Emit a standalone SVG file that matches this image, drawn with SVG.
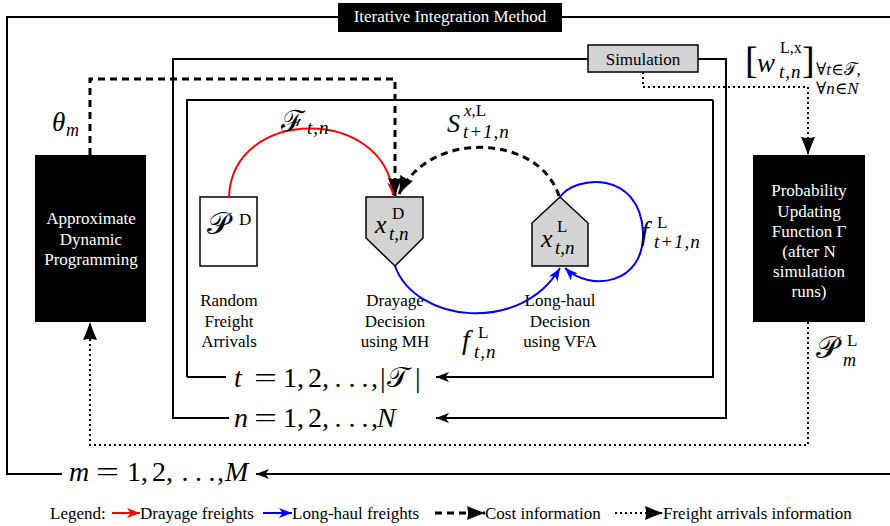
<svg xmlns="http://www.w3.org/2000/svg" width="890" height="526" viewBox="0 0 890 526">
<style>
.frame{fill:none;stroke:#000;stroke-width:2}
.t17{font-family:"Liberation Serif","Times New Roman","DejaVu Serif",serif;font-size:17px}
.mid{text-anchor:middle}
.w{fill:#fff}
.m{font-family:"Liberation Serif","Times New Roman","DejaVu Serif",serif}
.i{font-style:italic}
.dash{fill:none;stroke:#000;stroke-width:3;stroke-dasharray:7 5}
.dot{fill:none;stroke:#000;stroke-width:2;stroke-dasharray:2 3}
.red{fill:none;stroke:#f00;stroke-width:2}
.blue{fill:none;stroke:#00f;stroke-width:2}
.node{fill:#d3d3d3;stroke:#000;stroke-width:1.5}
.big{font-size:28px}
</style>
<defs>
<marker id="ak" viewBox="0 0 13 10" refX="13" refY="5" markerWidth="13" markerHeight="10" markerUnits="userSpaceOnUse" orient="auto"><path d="M0,0 L13,5 L0,10 L3.5,5 z" fill="#000"/></marker>
<marker id="ar" viewBox="0 0 13 10" refX="13" refY="5" markerWidth="13" markerHeight="10" markerUnits="userSpaceOnUse" orient="auto"><path d="M0,0 L13,5 L0,10 L3.5,5 z" fill="#f00"/></marker>
<marker id="ab" viewBox="0 0 13 10" refX="13" refY="5" markerWidth="13" markerHeight="10" markerUnits="userSpaceOnUse" orient="auto"><path d="M0,0 L13,5 L0,10 L3.5,5 z" fill="#00f"/></marker>
<marker id="big" viewBox="0 0 18 14" refX="18" refY="7" markerWidth="18" markerHeight="14" markerUnits="userSpaceOnUse" orient="auto"><path d="M0,0 Q9,4 18,7 Q9,10 0,14 Q2,7 0,0 z" fill="#000"/></marker>
</defs>

<g id="frames">
<path class="frame" d="M338,17 H7 V474 H62"/>
<path class="frame" d="M562,17 H890"/>
<path class="frame" d="M588,59 H173 V418 H229"/>
<path class="frame" d="M187,377 V100 H713"/>
<path class="frame" d="M187,377 H226"/>
</g>

<g id="title">
<rect x="338" y="3" width="224" height="29" fill="#000"/>
<text class="t17 w mid" x="450" y="22">Iterative Integration Method</text>
</g>

<g id="simulation">
<rect class="node" x="588" y="45" width="110" height="27"/>
<text class="t17 mid" x="643" y="65">Simulation</text>
</g>

<g id="adp">
<rect x="35" y="155" width="111" height="167" fill="#000"/>
<text class="t17 w mid" x="91" y="224">Approximate</text>
<text class="t17 w mid" x="91" y="244.5">Dynamic</text>
<text class="t17 w mid" x="91" y="265">Programming</text>
</g>

<g id="prob">
<rect x="753" y="155" width="112" height="167" fill="#000"/>
<text class="t17 w mid" x="809" y="196">Probability</text>
<text class="t17 w mid" x="809" y="216.5">Updating</text>
<text class="t17 w mid" x="809" y="237">Function Γ</text>
<text class="t17 w mid" x="809" y="257">(after N</text>
<text class="t17 w mid" x="809" y="277">simulation</text>
<text class="t17 w mid" x="809" y="297">runs)</text>
</g>

<g id="random">
<rect x="200" y="197" width="57" height="69" fill="#fff" stroke="#000" stroke-width="1.5"/>
<text class="m" x="207" y="234" font-size="31">𝒫</text>
<text class="m" x="239" y="225" font-size="17">D</text>
<text class="t17 mid" x="229" y="306">Random</text>
<text class="t17 mid" x="229" y="326.5">Freight</text>
<text class="t17 mid" x="229" y="347">Arrivals</text>
</g>

<g id="drayage">
<path class="node" d="M366,197 H423 V238 L395,266 L366,238 Z"/>
<text class="m i" x="375" y="233" font-size="26">x</text>
<text class="m" x="392" y="219" font-size="17">D</text>
<text class="m i" x="389" y="240" font-size="19">t,n</text>
<text class="t17 mid" x="395" y="306">Drayage</text>
<text class="t17 mid" x="395" y="326.5">Decision</text>
<text class="t17 mid" x="395" y="347">using MH</text>
</g>

<g id="longhaul">
<path class="node" d="M560,197 L588,223 V266 H532 V223 Z"/>
<text class="m i" x="541" y="247" font-size="26">x</text>
<text class="m" x="557" y="232" font-size="17">L</text>
<text class="m i" x="555" y="254" font-size="19">t,n</text>
<text class="t17 mid" x="560" y="306">Long-haul</text>
<text class="t17 mid" x="560" y="326.5">Decision</text>
<text class="t17 mid" x="560" y="347">using VFA</text>
</g>

<g id="connectors">
<path class="frame" d="M713,100 V377 H436" marker-end="url(#ak)"/>
<path class="frame" d="M698,59 H726 V418 H436" marker-end="url(#ak)"/>
<path class="frame" d="M892,474 H256" marker-end="url(#ak)"/>
<path class="red" d="M229,197 C232,106 386,106 393,195" marker-end="url(#ar)"/>
<path class="blue" d="M395,266 C415,322 520,335 560,268" marker-end="url(#ab)"/>
<path class="blue" d="M560,197 C575,175 640,170 643,232 C645,285 590,292 565,268" marker-end="url(#ab)"/>
<path class="dash" d="M559,196 C540,135 430,128 399,194" marker-end="url(#big)"/>
<path class="dash" d="M90,155 V79 H395 V196" marker-end="url(#big)"/>
<path class="dot" d="M643,72 V87 H808 V155" marker-end="url(#big)"/>
<path class="dot" d="M808,322 V445 H90 V322" marker-end="url(#big)"/>
</g>

<g id="labels">
<text class="m i" x="52" y="131" font-size="27">θ</text>
<text class="m i" x="66" y="136" font-size="18">m</text>
<text class="m" x="281" y="131" font-size="29">ℱ</text>
<text class="m i" x="307" y="134" font-size="19" letter-spacing="1">t,n</text>
<text class="m i" x="447" y="132" font-size="26">S</text>
<text class="m" x="464" y="116" font-size="17"><tspan class="i">x</tspan>,L</text>
<text class="m i" x="463" y="138" font-size="19" letter-spacing="1">t+1,n</text>
<text class="m i" x="462" y="349" font-size="28">f</text>
<text class="m" x="478" y="338" font-size="17">L</text>
<text class="m i" x="474" y="358" font-size="19" letter-spacing="1">t,n</text>
<text class="m i" x="641" y="240" font-size="28">f</text>
<text class="m" x="657" y="228" font-size="17">L</text>
<text class="m i" x="654" y="248" font-size="19" letter-spacing="1">t+1,n</text>
<text class="m" x="816" y="358" font-size="31">𝒫</text>
<text class="m" x="847" y="346" font-size="17">L</text>
<text class="m i" x="843" y="366" font-size="18">m</text>
<text class="m" x="745" y="73" font-size="38">[</text>
<text class="m i" x="757" y="72" font-size="27">w</text>
<text class="m" x="780" y="53" font-size="16">L,x</text>
<text class="m i" x="779" y="78" font-size="19" letter-spacing="1">t,n</text>
<text class="m" x="802" y="73" font-size="38">]</text>
<text class="m" x="816" y="75" font-size="17">∀<tspan class="i">t</tspan>∈𝒯,</text>
<text class="m" x="816" y="94" font-size="17">∀<tspan class="i">n</tspan>∈<tspan class="i">N</tspan></text>
</g>

<g id="loop-t">
<text class="m big" y="387"><tspan class="i" x="234">t</tspan><tspan x="283">1</tspan><tspan x="297">,</tspan><tspan x="308">2</tspan><tspan x="322">,</tspan><tspan x="334.5">.</tspan><tspan x="348.5">.</tspan><tspan x="361.5">.</tspan><tspan x="371">,</tspan><tspan x="380">|</tspan><tspan x="387">𝒯</tspan><tspan x="415">|</tspan></text>
<text class="m big" x="254" y="387" textLength="23" lengthAdjust="spacingAndGlyphs">=</text>
</g>
<g id="loop-n">
<text class="m big" y="427"><tspan class="i" x="234">n</tspan><tspan x="283">1</tspan><tspan x="297">,</tspan><tspan x="308">2</tspan><tspan x="322">,</tspan><tspan x="334.5">.</tspan><tspan x="348.5">.</tspan><tspan x="361.5">.</tspan><tspan x="371">,</tspan><tspan class="i" x="377">N</tspan></text>
<text class="m big" x="254" y="427" textLength="23" lengthAdjust="spacingAndGlyphs">=</text>
</g>
<g id="loop-m">
<text class="m big" y="481"><tspan class="i" x="69">m</tspan><tspan x="127">1</tspan><tspan x="141">,</tspan><tspan x="152">2</tspan><tspan x="166">,</tspan><tspan x="181.5">.</tspan><tspan x="195">.</tspan><tspan x="208.5">.</tspan><tspan x="217">,</tspan><tspan class="i" x="225">M</tspan></text>
<text class="m big" x="96" y="481" textLength="23" lengthAdjust="spacingAndGlyphs">=</text>
</g>

<g id="legend">
<text class="t17" x="50" y="519">Legend:</text>
<path class="red" d="M112,513 H140" marker-end="url(#ar)"/>
<text class="t17" x="140" y="519">Drayage freights</text>
<path class="blue" d="M263,513 H292" marker-end="url(#ab)"/>
<text class="t17" x="292" y="519">Long-haul freights</text>
<path class="dash" d="M435,513 H485" marker-end="url(#big)"/>
<text class="t17" x="485" y="519">Cost information</text>
<path class="dot" d="M615,513 H663" marker-end="url(#big)"/>
<text class="t17" x="663" y="519">Freight arrivals information</text>
</g>
</svg>
